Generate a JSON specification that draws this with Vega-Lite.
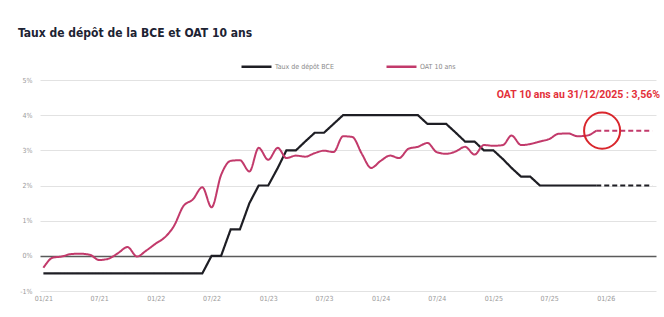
{
  "$schema": "https://vega.github.io/schema/vega-lite/v6.json",
  "autosize": {"type": "none"},
  "padding": {"left": 40, "top": 80, "right": 8, "bottom": 26},
  "width": 616,
  "height": 211,
  "background": "#ffffff",
  "title": {
    "text": "Taux de dépôt de la BCE et OAT 10 ans",
    "anchor": "start",
    "frame": "group",
    "dx": -22,
    "offset": 10,
    "font": "'DejaVu Sans Condensed', Roboto, sans-serif",
    "fontSize": 12,
    "fontWeight": "bold",
    "color": "#1d2333"
  },
  "config": {
    "view": {"stroke": null},
    "axis": {"labelFont": "'DejaVu Sans Condensed', Roboto, sans-serif", "labelColor": "#9a9a9a", "labelFontSize": 7, "domain": false, "ticks": false, "title": null}
  },
  "datasets": {
    "series": [
      {"date": "2021-01-01", "serie": "Taux de dépôt BCE", "part": "hist", "value": -0.5},
      {"date": "2021-02-01", "serie": "Taux de dépôt BCE", "part": "hist", "value": -0.5},
      {"date": "2021-03-01", "serie": "Taux de dépôt BCE", "part": "hist", "value": -0.5},
      {"date": "2021-04-01", "serie": "Taux de dépôt BCE", "part": "hist", "value": -0.5},
      {"date": "2021-05-01", "serie": "Taux de dépôt BCE", "part": "hist", "value": -0.5},
      {"date": "2021-06-01", "serie": "Taux de dépôt BCE", "part": "hist", "value": -0.5},
      {"date": "2021-07-01", "serie": "Taux de dépôt BCE", "part": "hist", "value": -0.5},
      {"date": "2021-08-01", "serie": "Taux de dépôt BCE", "part": "hist", "value": -0.5},
      {"date": "2021-09-01", "serie": "Taux de dépôt BCE", "part": "hist", "value": -0.5},
      {"date": "2021-10-01", "serie": "Taux de dépôt BCE", "part": "hist", "value": -0.5},
      {"date": "2021-11-01", "serie": "Taux de dépôt BCE", "part": "hist", "value": -0.5},
      {"date": "2021-12-01", "serie": "Taux de dépôt BCE", "part": "hist", "value": -0.5},
      {"date": "2022-01-01", "serie": "Taux de dépôt BCE", "part": "hist", "value": -0.5},
      {"date": "2022-02-01", "serie": "Taux de dépôt BCE", "part": "hist", "value": -0.5},
      {"date": "2022-03-01", "serie": "Taux de dépôt BCE", "part": "hist", "value": -0.5},
      {"date": "2022-04-01", "serie": "Taux de dépôt BCE", "part": "hist", "value": -0.5},
      {"date": "2022-05-01", "serie": "Taux de dépôt BCE", "part": "hist", "value": -0.5},
      {"date": "2022-06-01", "serie": "Taux de dépôt BCE", "part": "hist", "value": -0.5},
      {"date": "2022-07-01", "serie": "Taux de dépôt BCE", "part": "hist", "value": 0},
      {"date": "2022-08-01", "serie": "Taux de dépôt BCE", "part": "hist", "value": 0},
      {"date": "2022-09-01", "serie": "Taux de dépôt BCE", "part": "hist", "value": 0.75},
      {"date": "2022-10-01", "serie": "Taux de dépôt BCE", "part": "hist", "value": 0.75},
      {"date": "2022-11-01", "serie": "Taux de dépôt BCE", "part": "hist", "value": 1.5},
      {"date": "2022-12-01", "serie": "Taux de dépôt BCE", "part": "hist", "value": 2.0},
      {"date": "2023-01-01", "serie": "Taux de dépôt BCE", "part": "hist", "value": 2.0},
      {"date": "2023-02-01", "serie": "Taux de dépôt BCE", "part": "hist", "value": 2.5},
      {"date": "2023-03-01", "serie": "Taux de dépôt BCE", "part": "hist", "value": 3.0},
      {"date": "2023-04-01", "serie": "Taux de dépôt BCE", "part": "hist", "value": 3.0},
      {"date": "2023-05-01", "serie": "Taux de dépôt BCE", "part": "hist", "value": 3.25},
      {"date": "2023-06-01", "serie": "Taux de dépôt BCE", "part": "hist", "value": 3.5},
      {"date": "2023-07-01", "serie": "Taux de dépôt BCE", "part": "hist", "value": 3.5},
      {"date": "2023-08-01", "serie": "Taux de dépôt BCE", "part": "hist", "value": 3.75},
      {"date": "2023-09-01", "serie": "Taux de dépôt BCE", "part": "hist", "value": 4.0},
      {"date": "2023-10-01", "serie": "Taux de dépôt BCE", "part": "hist", "value": 4.0},
      {"date": "2023-11-01", "serie": "Taux de dépôt BCE", "part": "hist", "value": 4.0},
      {"date": "2023-12-01", "serie": "Taux de dépôt BCE", "part": "hist", "value": 4.0},
      {"date": "2024-01-01", "serie": "Taux de dépôt BCE", "part": "hist", "value": 4.0},
      {"date": "2024-02-01", "serie": "Taux de dépôt BCE", "part": "hist", "value": 4.0},
      {"date": "2024-03-01", "serie": "Taux de dépôt BCE", "part": "hist", "value": 4.0},
      {"date": "2024-04-01", "serie": "Taux de dépôt BCE", "part": "hist", "value": 4.0},
      {"date": "2024-05-01", "serie": "Taux de dépôt BCE", "part": "hist", "value": 4.0},
      {"date": "2024-06-01", "serie": "Taux de dépôt BCE", "part": "hist", "value": 3.75},
      {"date": "2024-07-01", "serie": "Taux de dépôt BCE", "part": "hist", "value": 3.75},
      {"date": "2024-08-01", "serie": "Taux de dépôt BCE", "part": "hist", "value": 3.75},
      {"date": "2024-09-01", "serie": "Taux de dépôt BCE", "part": "hist", "value": 3.5},
      {"date": "2024-10-01", "serie": "Taux de dépôt BCE", "part": "hist", "value": 3.25},
      {"date": "2024-11-01", "serie": "Taux de dépôt BCE", "part": "hist", "value": 3.25},
      {"date": "2024-12-01", "serie": "Taux de dépôt BCE", "part": "hist", "value": 3.0},
      {"date": "2025-01-01", "serie": "Taux de dépôt BCE", "part": "hist", "value": 3.0},
      {"date": "2025-02-01", "serie": "Taux de dépôt BCE", "part": "hist", "value": 2.75},
      {"date": "2025-03-01", "serie": "Taux de dépôt BCE", "part": "hist", "value": 2.5},
      {"date": "2025-04-01", "serie": "Taux de dépôt BCE", "part": "hist", "value": 2.25},
      {"date": "2025-05-01", "serie": "Taux de dépôt BCE", "part": "hist", "value": 2.25},
      {"date": "2025-06-01", "serie": "Taux de dépôt BCE", "part": "hist", "value": 2.0},
      {"date": "2025-07-01", "serie": "Taux de dépôt BCE", "part": "hist", "value": 2.0},
      {"date": "2025-08-01", "serie": "Taux de dépôt BCE", "part": "hist", "value": 2.0},
      {"date": "2025-09-01", "serie": "Taux de dépôt BCE", "part": "hist", "value": 2.0},
      {"date": "2025-10-01", "serie": "Taux de dépôt BCE", "part": "hist", "value": 2.0},
      {"date": "2025-11-01", "serie": "Taux de dépôt BCE", "part": "hist", "value": 2.0},
      {"date": "2025-12-01", "serie": "Taux de dépôt BCE", "part": "hist", "value": 2.0},
      {"date": "2025-12-01", "serie": "Taux de dépôt BCE", "part": "proj", "value": 2.0},
      {"date": "2026-06-01", "serie": "Taux de dépôt BCE", "part": "proj", "value": 2.0},
      {"date": "2021-01-01", "serie": "OAT 10 ans", "part": "hist", "value": -0.34},
      {"date": "2021-02-01", "serie": "OAT 10 ans", "part": "hist", "value": -0.05},
      {"date": "2021-03-01", "serie": "OAT 10 ans", "part": "hist", "value": -0.02},
      {"date": "2021-04-01", "serie": "OAT 10 ans", "part": "hist", "value": 0.05},
      {"date": "2021-05-01", "serie": "OAT 10 ans", "part": "hist", "value": 0.06},
      {"date": "2021-06-01", "serie": "OAT 10 ans", "part": "hist", "value": 0.03},
      {"date": "2021-07-01", "serie": "OAT 10 ans", "part": "hist", "value": -0.12},
      {"date": "2021-08-01", "serie": "OAT 10 ans", "part": "hist", "value": -0.08},
      {"date": "2021-09-01", "serie": "OAT 10 ans", "part": "hist", "value": 0.08},
      {"date": "2021-10-01", "serie": "OAT 10 ans", "part": "hist", "value": 0.25},
      {"date": "2021-11-01", "serie": "OAT 10 ans", "part": "hist", "value": -0.02},
      {"date": "2021-12-01", "serie": "OAT 10 ans", "part": "hist", "value": 0.15},
      {"date": "2022-01-01", "serie": "OAT 10 ans", "part": "hist", "value": 0.35},
      {"date": "2022-02-01", "serie": "OAT 10 ans", "part": "hist", "value": 0.54},
      {"date": "2022-03-01", "serie": "OAT 10 ans", "part": "hist", "value": 0.85},
      {"date": "2022-04-01", "serie": "OAT 10 ans", "part": "hist", "value": 1.42},
      {"date": "2022-05-01", "serie": "OAT 10 ans", "part": "hist", "value": 1.6},
      {"date": "2022-06-01", "serie": "OAT 10 ans", "part": "hist", "value": 1.95},
      {"date": "2022-07-01", "serie": "OAT 10 ans", "part": "hist", "value": 1.38},
      {"date": "2022-08-01", "serie": "OAT 10 ans", "part": "hist", "value": 2.3},
      {"date": "2022-09-01", "serie": "OAT 10 ans", "part": "hist", "value": 2.7},
      {"date": "2022-10-01", "serie": "OAT 10 ans", "part": "hist", "value": 2.72},
      {"date": "2022-11-01", "serie": "OAT 10 ans", "part": "hist", "value": 2.4},
      {"date": "2022-12-01", "serie": "OAT 10 ans", "part": "hist", "value": 3.07},
      {"date": "2023-01-01", "serie": "OAT 10 ans", "part": "hist", "value": 2.73},
      {"date": "2023-02-01", "serie": "OAT 10 ans", "part": "hist", "value": 3.07},
      {"date": "2023-03-01", "serie": "OAT 10 ans", "part": "hist", "value": 2.78},
      {"date": "2023-04-01", "serie": "OAT 10 ans", "part": "hist", "value": 2.85},
      {"date": "2023-05-01", "serie": "OAT 10 ans", "part": "hist", "value": 2.82},
      {"date": "2023-06-01", "serie": "OAT 10 ans", "part": "hist", "value": 2.92},
      {"date": "2023-07-01", "serie": "OAT 10 ans", "part": "hist", "value": 2.99},
      {"date": "2023-08-01", "serie": "OAT 10 ans", "part": "hist", "value": 2.95},
      {"date": "2023-09-01", "serie": "OAT 10 ans", "part": "hist", "value": 3.4},
      {"date": "2023-10-01", "serie": "OAT 10 ans", "part": "hist", "value": 3.38},
      {"date": "2023-11-01", "serie": "OAT 10 ans", "part": "hist", "value": 2.9},
      {"date": "2023-12-01", "serie": "OAT 10 ans", "part": "hist", "value": 2.5},
      {"date": "2024-01-01", "serie": "OAT 10 ans", "part": "hist", "value": 2.7},
      {"date": "2024-02-01", "serie": "OAT 10 ans", "part": "hist", "value": 2.85},
      {"date": "2024-03-01", "serie": "OAT 10 ans", "part": "hist", "value": 2.78},
      {"date": "2024-04-01", "serie": "OAT 10 ans", "part": "hist", "value": 3.05},
      {"date": "2024-05-01", "serie": "OAT 10 ans", "part": "hist", "value": 3.1},
      {"date": "2024-06-01", "serie": "OAT 10 ans", "part": "hist", "value": 3.21},
      {"date": "2024-07-01", "serie": "OAT 10 ans", "part": "hist", "value": 2.95},
      {"date": "2024-08-01", "serie": "OAT 10 ans", "part": "hist", "value": 2.9},
      {"date": "2024-09-01", "serie": "OAT 10 ans", "part": "hist", "value": 2.97},
      {"date": "2024-10-01", "serie": "OAT 10 ans", "part": "hist", "value": 3.1},
      {"date": "2024-11-01", "serie": "OAT 10 ans", "part": "hist", "value": 2.88},
      {"date": "2024-12-01", "serie": "OAT 10 ans", "part": "hist", "value": 3.15},
      {"date": "2025-01-01", "serie": "OAT 10 ans", "part": "hist", "value": 3.13},
      {"date": "2025-02-01", "serie": "OAT 10 ans", "part": "hist", "value": 3.15},
      {"date": "2025-03-01", "serie": "OAT 10 ans", "part": "hist", "value": 3.42},
      {"date": "2025-04-01", "serie": "OAT 10 ans", "part": "hist", "value": 3.15},
      {"date": "2025-05-01", "serie": "OAT 10 ans", "part": "hist", "value": 3.18},
      {"date": "2025-06-01", "serie": "OAT 10 ans", "part": "hist", "value": 3.25},
      {"date": "2025-07-01", "serie": "OAT 10 ans", "part": "hist", "value": 3.32},
      {"date": "2025-08-01", "serie": "OAT 10 ans", "part": "hist", "value": 3.47},
      {"date": "2025-09-01", "serie": "OAT 10 ans", "part": "hist", "value": 3.48},
      {"date": "2025-10-01", "serie": "OAT 10 ans", "part": "hist", "value": 3.4},
      {"date": "2025-11-01", "serie": "OAT 10 ans", "part": "hist", "value": 3.42},
      {"date": "2025-12-01", "serie": "OAT 10 ans", "part": "hist", "value": 3.56},
      {"date": "2025-12-01", "serie": "OAT 10 ans", "part": "proj", "value": 3.56},
      {"date": "2026-06-01", "serie": "OAT 10 ans", "part": "proj", "value": 3.56}
    ],
    "note": [
      {"date": "2025-12-20", "value": 3.56, "anchor": "2026-06-13", "top": 4.57, "label": "OAT 10 ans au 31/12/2025 : 3,56%"}
    ]
  },
  "encoding": {
    "x": {
      "field": "date", "type": "temporal",
      "scale": {"domain": ["2020-12-21", "2026-06-13"]},
      "axis": {
        "format": "%m/%y", "grid": false, "labelPadding": 3, "labelFlush": false,
        "values": [
          {"year": 2021, "month": 1, "date": 1}, {"year": 2021, "month": 7, "date": 1},
          {"year": 2022, "month": 1, "date": 1}, {"year": 2022, "month": 7, "date": 1},
          {"year": 2023, "month": 1, "date": 1}, {"year": 2023, "month": 7, "date": 1},
          {"year": 2024, "month": 1, "date": 1}, {"year": 2024, "month": 7, "date": 1},
          {"year": 2025, "month": 1, "date": 1}, {"year": 2025, "month": 7, "date": 1},
          {"year": 2026, "month": 1, "date": 1}
        ]
      }
    },
    "y": {
      "field": "value", "type": "quantitative",
      "scale": {"domain": [-1, 5], "nice": false},
      "axis": {
        "values": [-1, 0, 1, 2, 3, 4, 5],
        "labelExpr": "datum.value + '%'",
        "labelPadding": 8,
        "grid": true,
        "gridColor": {"condition": {"test": "datum.value === 0", "value": "#5a5a5a"}, "value": "#e2e2e2"},
        "gridWidth": {"condition": {"test": "datum.value === 0", "value": 1.5}, "value": 1}
      }
    }
  },
  "layer": [
    {
      "data": {"name": "series"},
      "transform": [{"filter": "datum.serie === 'Taux de dépôt BCE'"}],
      "mark": {"type": "line", "strokeWidth": 2.2, "interpolate": "linear"},
      "encoding": {
        "color": {"field": "serie", "type": "nominal",
          "scale": {"domain": ["Taux de dépôt BCE", "OAT 10 ans"], "range": ["#1e1e24", "#c23a6b"]},
          "legend": {
            "title": null, "orient": "none", "direction": "horizontal",
            "legendX": 200, "legendY": -30,
            "symbolType": "stroke", "symbolSize": 900, "symbolStrokeWidth": 2.5,
            "labelFont": "'DejaVu Sans Condensed', Roboto, sans-serif", "labelFontSize": 7, "labelColor": "#8a8a8a",
            "labelOffset": 2, "columnPadding": 47
          }
        },
        "strokeDash": {"field": "part", "type": "nominal",
          "scale": {"domain": ["hist", "proj"], "range": [[1, 0], [5, 3]]}, "legend": null}
      }
    },
    {
      "data": {"name": "series"},
      "transform": [{"filter": "datum.serie === 'OAT 10 ans'"}],
      "mark": {"type": "line", "strokeWidth": 2, "interpolate": "monotone"},
      "encoding": {
        "color": {"field": "serie", "type": "nominal"},
        "strokeDash": {"field": "part", "type": "nominal", "legend": null}
      }
    },
    {
      "data": {"name": "note"},
      "mark": {"type": "point", "shape": "circle", "size": 1300, "filled": false, "stroke": "#d9262c", "strokeWidth": 2, "opacity": 1}
    },
    {
      "data": {"name": "note"},
      "mark": {"type": "text", "align": "right", "baseline": "middle", "font": "Roboto", "fontWeight": "bold", "fontSize": 10.5, "color": "#e3303a", "dx": 4},
      "encoding": {
        "x": {"field": "anchor", "type": "temporal"},
        "y": {"field": "top", "type": "quantitative"},
        "text": {"field": "label"}
      }
    }
  ]
}
